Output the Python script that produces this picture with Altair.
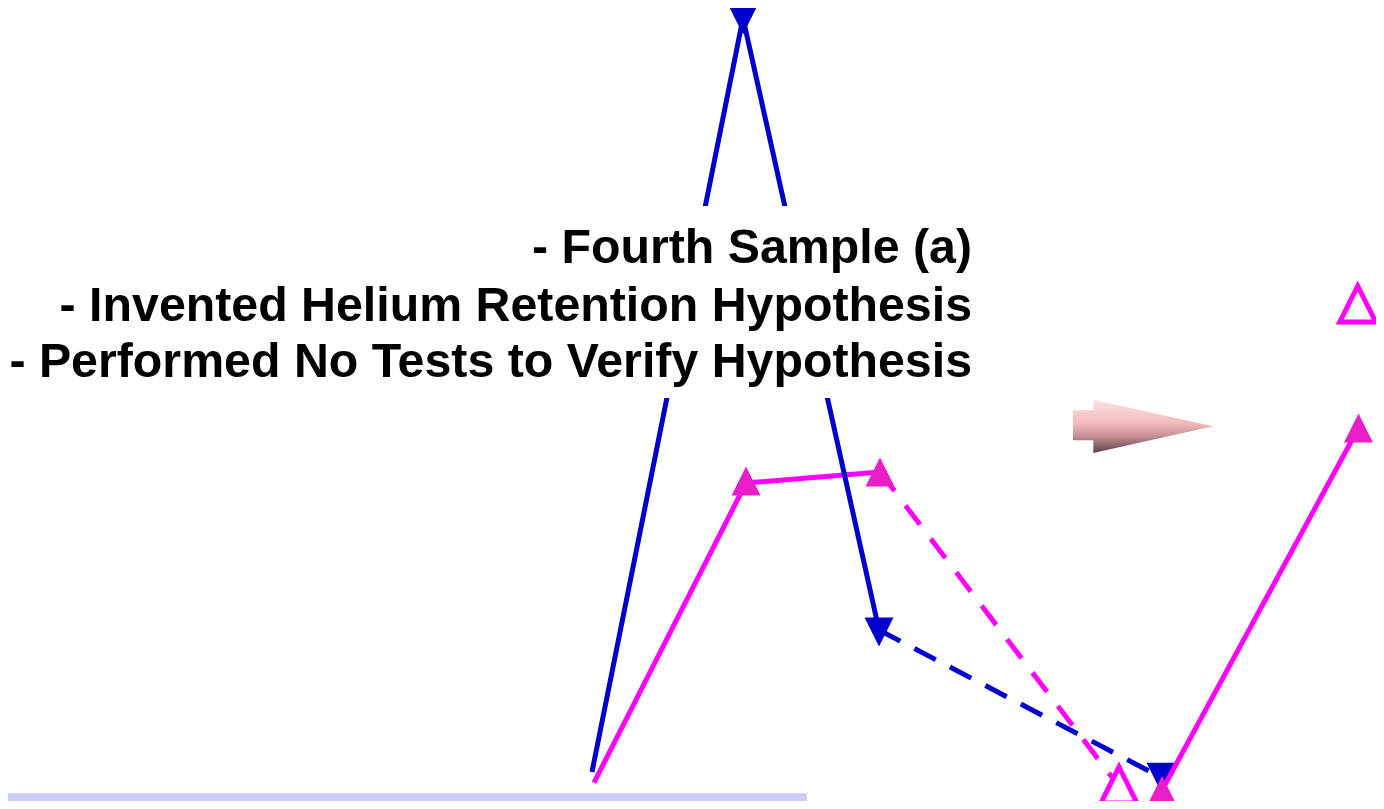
import altair as alt
import pandas as pd

# ---- data (in picture coordinates) ----
blue_solid_x = [592, 743, 879]
blue_solid_y = [772, 18, 630]
blue_dash_x = [879, 1161]
blue_dash_y = [630, 778]
mag_solid1_x = [594, 746, 880]
mag_solid1_y = [785, 483, 472]
mag_dash_x = [880, 1119]
mag_dash_y = [472, 790]
mag_solid2_x = [1162, 1362]
mag_solid2_y = [795, 428]
blue_marker_x = [743, 879, 1161]
blue_marker_y = [20, 632, 778]
mag_filled_x = [746, 880, 1162, 1362]
mag_filled_y = [481, 472, 795, 428]
mag_open_x = [1119, 1361]
mag_open_y = [788, 304]
text_lines = ["- Fourth Sample (a)",
              "- Invented Helium Retention Hypothesis",
              "- Performed No Tests to Verify Hypothesis"]
text_x = [972, 972, 972]
text_y = [263, 321, 377]
box_x, box_x2, box_y, box_y2 = [0], [985], [206], [398]
bar_x, bar_x2, bar_y, bar_y2 = [0], [807], [799], [809]
arrow_x, arrow_y = [1143], [427]

# page is 1384x809 with an 8px body margin -> 1368x793 drawing area
W, H = 1368, 793
xs = alt.Scale(domain=[8, 1345, 1384], range=[0, 1337, W], zero=False, nice=False)
ys = alt.Scale(domain=[8, 775, 809], range=[0, 767, H], zero=False, nice=False)

BLUE = "#0000cc"
MAG = "#ff00ff"
MAGF = "#e91ec9"


def df(x, y):
    return pd.DataFrame({"x": x, "y": y, "o": list(range(len(x)))})


def line(x, y, color, dash=None):
    kw = dict(color=color, strokeWidth=5, strokeCap="butt", clip=False)
    if dash:
        kw["strokeDash"] = dash
    return alt.Chart(df(x, y)).mark_line(**kw).encode(
        x=alt.X("x:Q", scale=xs, axis=None),
        y=alt.Y("y:Q", scale=ys, axis=None),
        order="o:Q",
    )


def pts(x, y, shape, size, fill, stroke=None, sw=0):
    kw = dict(shape=shape, size=size, fill=fill, filled=True, opacity=1,
              fillOpacity=1, strokeWidth=sw)
    if stroke:
        kw["stroke"] = stroke
        kw["strokeJoin"] = "miter"
    return alt.Chart(df(x, y)).mark_point(**kw).encode(
        x=alt.X("x:Q", scale=xs, axis=None),
        y=alt.Y("y:Q", scale=ys, axis=None),
    )


def rect(x, x2, y, y2, color):
    d = pd.DataFrame({"x": x, "x2": x2, "y": y, "y2": y2})
    return alt.Chart(d).mark_rect(color=color).encode(
        x=alt.X("x:Q", scale=xs, axis=None), x2="x2:Q",
        y=alt.Y("y:Q", scale=ys, axis=None), y2="y2:Q",
    )


UP = "M0,-1 L-1,1 L1,1 Z"
DOWN = "M-1,-1 L1,-1 L0,1 Z"
ARROW = "M-1,-0.24 L-0.71,-0.24 L-0.71,-0.39 L1,-0.01 L-0.71,0.37 L-0.71,0.19 L-1,0.19 Z"

text_df = pd.DataFrame({"t": text_lines, "x": text_x, "y": text_y})
text = alt.Chart(text_df).mark_text(
    align="right", baseline="alphabetic", font="Liberation Sans",
    fontWeight="bold", fontSize=48.3, color="#000000"
).encode(
    x=alt.X("x:Q", scale=xs, axis=None),
    y=alt.Y("y:Q", scale=ys, axis=None),
    text="t:N",
)

grad = alt.Gradient(
    gradient="linear", x1=0, x2=0, y1=0, y2=1,
    stops=[alt.GradientStop(color="#fde2e2", offset=0),
           alt.GradientStop(color="#f3baba", offset=0.45),
           alt.GradientStop(color="#c08c90", offset=0.7),
           alt.GradientStop(color="#5e424a", offset=1)],
)
arrow = alt.Chart(df(arrow_x, arrow_y)).mark_point(
    shape=ARROW, size=19600, filled=True, fill=grad, opacity=1,
    fillOpacity=1, strokeWidth=0
).encode(
    x=alt.X("x:Q", scale=xs, axis=None),
    y=alt.Y("y:Q", scale=ys, axis=None),
)

chart = alt.layer(
    rect(bar_x, bar_x2, bar_y, bar_y2, "#ccccff"),
    line(mag_solid1_x, mag_solid1_y, MAG),
    line(mag_dash_x, mag_dash_y, MAG, [24, 18]),
    line(blue_solid_x, blue_solid_y, BLUE),
    line(blue_dash_x, blue_dash_y, BLUE, [24, 16]),
    rect(box_x, box_x2, box_y, box_y2, "#ffffff"),
    text,
    pts(blue_marker_x, blue_marker_y, DOWN, 841, BLUE),
    line(mag_solid2_x, mag_solid2_y, MAG),
    pts(mag_filled_x, mag_filled_y, UP, 841, MAGF),
    pts(mag_open_x, mag_open_y, UP, 1296, "#ffffff", MAG, 5),
    arrow,
).properties(
    width=W, height=H, padding=0, background="#ffffff",
    autosize=alt.AutoSizeParams(type="none"),
).configure_view(stroke=None)

chart.save("out.html", embed_options={"renderer": "svg", "actions": False})
